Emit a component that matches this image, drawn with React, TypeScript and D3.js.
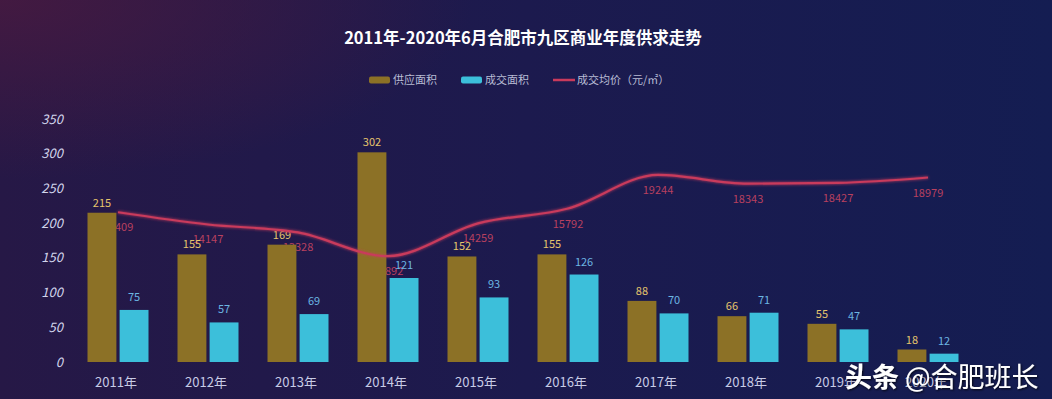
import React from "react";
import * as d3 from "d3";

const years = ["2011年", "2012年", "2013年", "2014年", "2015年", "2016年", "2017年", "2018年", "2019年", "2020年"];
const supply = [215, 155, 169, 302, 152, 155, 88, 66, 55, 18];
const deal = [75, 57, 69, 121, 93, 126, 70, 71, 47, 12];
const price = [15409, 14147, 13328, 10892, 14259, 15792, 19244, 18343, 18427, 18979];
const yTicks = [0, 50, 100, 150, 200, 250, 300, 350];
const legendItems = ["供应面积", "成交面积", "成交均价（元/㎡）"];

const W = 1052;
const H = 399;
const FONT = "'Noto Sans CJK SC', 'Noto Sans', sans-serif";

const App = () => {
  const x = d3.scaleBand<string>().domain(years).range([73, 973]).padding(0);
  const inner = d3.scaleBand<string>().domain(["supply", "deal"]).range([14.5, 75.5]).paddingInner(0.1);
  const y = d3.scaleLinear().domain([0, 350]).range([362, 119]);
  const y2 = d3.scaleLinear().domain([0, 25000]).range([362, 119]);

  const cx = (i: number) => (x(years[i]) as number) + x.bandwidth() / 2;

  const line = d3
    .line<number>()
    .x((d, i) => cx(i))
    .y(d => y2(d))
    .curve(d3.curveMonotoneX);

  const colors = ["#8c7126", "#3cbfda", "#c93a5c"];
  const legendX = [369, 461, 553];

  return (
    <svg width={W} height={H} style={{ position: "absolute", left: 0, top: 0 }} fontFamily={FONT}>
      <defs>
        <linearGradient id="bg" x1="0%" y1="0%" x2="100%" y2="0%">
          <stop offset="0%" stopColor="#261846" />
          <stop offset="50%" stopColor="#1c1a4e" />
          <stop offset="100%" stopColor="#141d52" />
        </linearGradient>
        <radialGradient id="tint" cx="0%" cy="0%" r="45%">
          <stop offset="0%" stopColor="#4a1a40" stopOpacity="0.8" />
          <stop offset="100%" stopColor="#4a1a40" stopOpacity="0" />
        </radialGradient>
        <filter id="glow" x="-10%" y="-50%" width="120%" height="200%">
          <feGaussianBlur stdDeviation="1.6" result="b" />
          <feMerge>
            <feMergeNode in="b" />
            <feMergeNode in="SourceGraphic" />
          </feMerge>
        </filter>
        <filter id="shadow" x="-10%" y="-30%" width="120%" height="160%">
          <feDropShadow dx="1" dy="1" stdDeviation="1.2" floodColor="#000" floodOpacity="0.8" />
        </filter>
      </defs>
      <rect width={W} height={H} fill="url(#bg)" />
      <rect width={W} height={H} fill="url(#tint)" />

      {/* title */}
      <text x={523} y={44} textAnchor="middle" fill="#ffffff" fontSize={16.5} fontWeight="bold">
        2011年-2020年6月合肥市九区商业年度供求走势
      </text>

      {/* legend */}
      {legendItems.map((name, i) => (
        <g key={name}>
          {i < 2 ? (
            <rect x={legendX[i]} y={76.5} width={21} height={7} rx={2} fill={colors[i]} />
          ) : (
            <line x1={legendX[i]} x2={legendX[i] + 22} y1={80} y2={80} stroke={colors[i]} strokeWidth={2.5} />
          )}
          <text x={legendX[i] + 24} y={84} fill="#b8bcd4" fontSize={11}>
            {name}
          </text>
        </g>
      ))}

      {/* y axis labels */}
      {yTicks.map(t => (
        <text key={t} x={63} y={y(t) + 4.5} textAnchor="end" fill="#d2d5ec" fontSize={13} fontStyle="italic">
          {t}
        </text>
      ))}

      {/* line labels (drawn under the bars) */}
      {price.map((p, i) => (
        <text key={"pl" + i} x={cx(i)} y={y2(p) + 19} textAnchor="middle" fill="#b8405f" fontSize={11}>
          {p}
        </text>
      ))}

      {/* bars */}
      {years.map((yr, i) => {
        const x0 = x(yr) as number;
        return (
          <g key={yr}>
            <rect
              x={x0 + (inner("supply") as number)}
              y={y(supply[i])}
              width={inner.bandwidth()}
              height={y(0) - y(supply[i])}
              fill={colors[0]}
            />
            <rect
              x={x0 + (inner("deal") as number)}
              y={y(deal[i])}
              width={inner.bandwidth()}
              height={y(0) - y(deal[i])}
              fill={colors[1]}
            />
            <text
              x={x0 + (inner("supply") as number) + inner.bandwidth() / 2}
              y={y(supply[i]) - 6}
              textAnchor="middle"
              fill="#e6c56c"
              fontSize={11}
            >
              {supply[i]}
            </text>
            <text
              x={x0 + (inner("deal") as number) + inner.bandwidth() / 2}
              y={y(deal[i]) - 9}
              textAnchor="middle"
              fill="#6cb6e2"
              fontSize={11}
            >
              {deal[i]}
            </text>
          </g>
        );
      })}

      {/* price line */}
      <path d={line(price) || ""} fill="none" stroke="#c93a5c" strokeWidth={2.2} filter="url(#glow)" />

      {/* x axis labels */}
      {years.map((yr, i) => (
        <text key={"xl" + yr} x={cx(i) - 2} y={387} textAnchor="middle" fill="#c8cce6" fontSize={13}>
          {yr}
        </text>
      ))}

      {/* watermark */}
      <text x={845} y={387} fill="#ffffff" fontSize={27} filter="url(#shadow)">
        <tspan fontWeight="bold">头条</tspan>
        <tspan> @合肥班长</tspan>
      </text>
    </svg>
  );
};

export default App;
